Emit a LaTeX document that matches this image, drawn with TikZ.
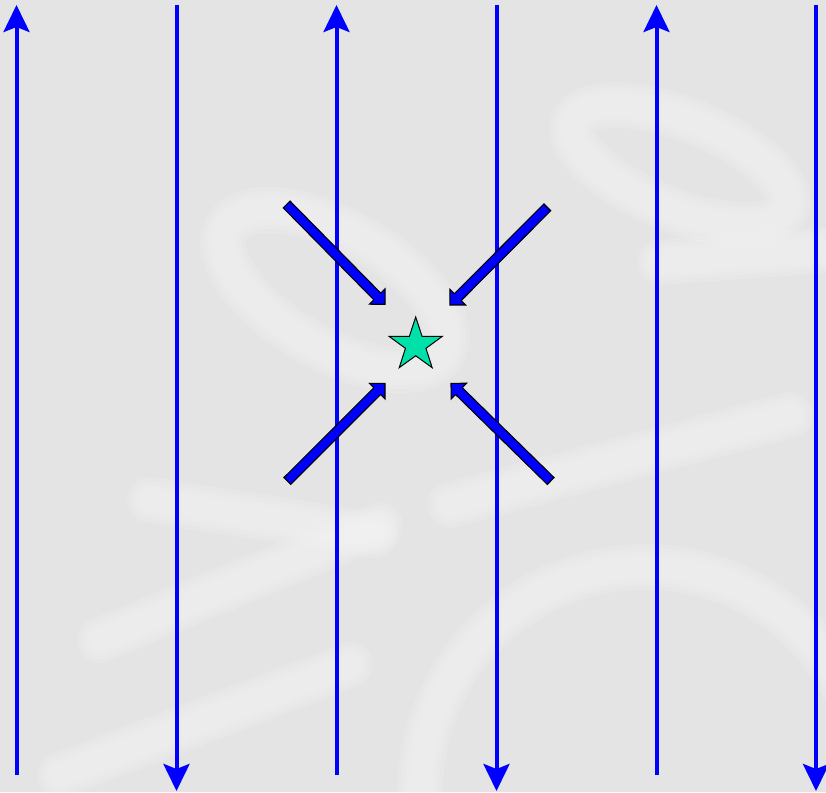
\documentclass[tikz,border=0pt]{standalone}
\usetikzlibrary{arrows.meta,calc,shapes.geometric}
\definecolor{bg}{HTML}{E4E4E4}
\definecolor{wm}{HTML}{F6F6F6}
\definecolor{stargreen}{RGB}{0,225,170}
\newcommand\wmpath[1]{\foreach \w in {46,38,30,22}{\draw[draw=wm, line width=\w pt, opacity=0.17, line cap=round, line join=round] #1;}}
\newcommand\blockarr[2]{%
  \coordinate (h) at ($(#2)!11pt!(#1)$);
  \draw[blk] ($(#1)!4.8pt!90:(#2)$) -- ($(h)!4.8pt!90:(#2)$) -- ($(h)!11pt!90:(#2)$) -- (#2)
    -- ($(h)!11pt!-90:(#2)$) -- ($(h)!4.8pt!-90:(#2)$) -- ($(#1)!4.8pt!-90:(#2)$) -- cycle;}
\begin{document}
\begin{tikzpicture}[x=1pt,y=-1pt,
  flow/.style={draw=blue, line width=4pt, -{Stealth[length=27pt,width=26pt,inset=5pt]}},
  blk/.style={draw=black, fill=blue, line width=1.1pt, line join=miter},
  starnode/.style={star, star points=5, star point ratio=2.6, minimum size=56pt, inner sep=0pt,
    draw=black, line width=1pt, fill=stargreen}]
\fill[bg] (0,0) rectangle (826,792);
\useasboundingbox (0,0) rectangle (826,792);
% faint watermark
\begin{scope}[shift={(680,165)},rotate=-22]
  \wmpath{(0,0) ellipse [x radius=115, y radius=45]}
\end{scope}
\begin{scope}[shift={(335,290)},rotate=-30]
  \wmpath{(0,0) ellipse [x radius=125, y radius=58]}
\end{scope}
\wmpath{(150,500) -- (375,535)}
\wmpath{(100,640) -- (380,525)}
\wmpath{(60,775) -- (350,665)}
\wmpath{(450,505) -- (790,415)}
\wmpath{(660,262) -- (826,250)}
\wmpath{(420,792) arc [start angle=180, end angle=350, radius=225]}
% vertical flows
\foreach \i/\x in {1/16.5,3/336.5,5/656.5}{
  \coordinate (s\i) at (\x,775);
  \coordinate (e\i) at (\x,5);
  \draw[flow] (s\i) -- (e\i);}
\foreach \i/\x in {2/176.5,4/496.5,6/816}{
  \coordinate (s\i) at (\x,5);
  \coordinate (e\i) at (\x,791);
  \draw[flow] (s\i) -- (e\i);}
% star
\node[starnode] (star) at (415.7,345) {};
% converging block arrows
\coordinate (tlA) at (286.7,204.5); \coordinate (tlB) at (385,304.3);
\coordinate (trA) at (547.3,207.3); \coordinate (trB) at (450,305);
\coordinate (blA) at (287.3,481);   \coordinate (blB) at (385,383.4);
\coordinate (brA) at (550.7,481);   \coordinate (brB) at (451,383.4);
\blockarr{tlA}{tlB}
\blockarr{trA}{trB}
\blockarr{blA}{blB}
\blockarr{brA}{brB}
\end{tikzpicture}
\end{document}
